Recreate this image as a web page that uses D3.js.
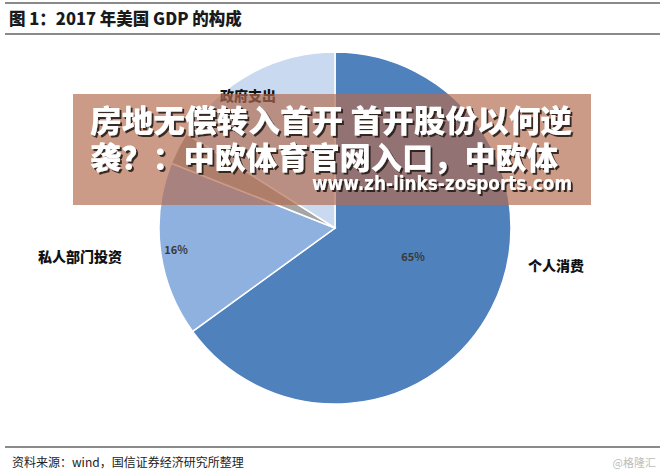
<!DOCTYPE html>
<html><head><meta charset="utf-8">
<script src="https://cdn.jsdelivr.net/npm/d3@7"></script>
<style>
html,body{margin:0;padding:0;background:#fff;}
svg{display:block;font-family:"Noto Sans CJK SC","Noto Sans",sans-serif;}
</style></head>
<body>
<svg id="c" width="665" height="474"></svg>
<script>
const categories = ["个人消费", "私人部门投资", "净出口", "政府支出"];
const values = [65, 16, 3, 16];
const pctLabels = ["65%", "16%", "", ""];
const catLabels = ["个人消费", "私人部门投资", "", "政府支出"];
const colors = ["#4F81BD", "#8FB1E0", "#A5A5A5", "#C8D9F0"];
const titleText = "图 1：2017 年美国 GDP 的构成";
const sourceText = "资料来源：wind，国信证券经济研究所整理";
const bannerLines = ["房地无偿转入首开 首开股份以何逆", "袭？：中欧体育官网入口，中欧体"];
const bannerUrl = "www.zh-links-zosports.com";

const svg = d3.select("#c");

// frame lines
svg.append("line").attr("x1",5).attr("x2",660).attr("y1",3).attr("y2",3).attr("stroke","#8a8a8a").attr("stroke-width",2);
svg.append("line").attr("x1",5).attr("x2",660).attr("y1",34).attr("y2",34).attr("stroke","#8a8a8a").attr("stroke-width",2);
svg.append("line").attr("x1",5).attr("x2",660).attr("y1",447).attr("y2",447).attr("stroke","#8a8a8a").attr("stroke-width",2);

svg.append("text").attr("x",9).attr("y",25).attr("font-size",16.5).attr("font-weight",900).attr("fill","#1a1a1a").text(titleText);
svg.append("text").attr("x",12).attr("y",467).attr("font-size",12).attr("fill","#222").text(sourceText);
svg.append("text").attr("x",656).attr("y",467).attr("text-anchor","end").attr("font-size",11).attr("fill","#bcbcbc").text("@格隆汇");

// pie
const cx = 335, cy = 228, R = 176;
const data = categories.map((c,i)=>({cat:c, label:catLabels[i], value:values[i], pct:pctLabels[i], color:colors[i]}));
const pie = d3.pie().value(d=>d.value).sort(null);
const arc = d3.arc().innerRadius(0).outerRadius(R);
const arcs = pie(data);
const g = svg.append("g").attr("transform",`translate(${cx},${cy})`);
g.selectAll("path").data(arcs).join("path")
  .attr("d",arc).attr("fill",d=>d.data.color)
  .attr("stroke","#fff").attr("stroke-width",1.5);

// percent labels
const pctPos = {"个人消费":[413,261], "私人部门投资":[176,254]};
data.filter(d=>d.pct).forEach(d=>{
  const p = pctPos[d.cat];
  svg.append("text").attr("x",p[0]).attr("y",p[1]).attr("text-anchor","middle")
    .attr("font-size",11).attr("font-weight",700).attr("fill","#3a3a3a").text(d.pct);
});
// category labels
const catPos = {"个人消费":[528,271], "私人部门投资":[38,262], "政府支出":[220,101]};
data.filter(d=>d.label).forEach(d=>{
  const p = catPos[d.cat];
  svg.append("text").attr("x",p[0]).attr("y",p[1])
    .attr("font-size",14).attr("font-weight",900).attr("fill","#111").text(d.label);
});

// watermark banner
svg.append("rect").attr("x",73).attr("y",94).attr("width",518).attr("height",111)
  .attr("fill","rgb(178,108,80)").attr("fill-opacity",0.68);
const defs = svg.append("defs");
const f = defs.append("filter").attr("id","sh").attr("x","-5%").attr("y","-20%").attr("width","110%").attr("height","140%");
f.append("feDropShadow").attr("dx",2).attr("dy",2).attr("stdDeviation",0.6).attr("flood-color","#2a1a14").attr("flood-opacity",0.9);
const bl = [[90,132,482],[90,169,468]];
bannerLines.forEach((t,i)=>{
  svg.append("text").attr("x",bl[i][0]).attr("y",bl[i][1]).attr("font-size",31).attr("font-weight",900)
    .attr("fill","#fff").attr("filter","url(#sh)")
    .attr("textLength", bl[i][2]).attr("lengthAdjust","spacingAndGlyphs").text(t);
});
svg.append("text").attr("x",312).attr("y",190).attr("font-size",19).attr("font-weight",700)
  .attr("fill","#fff").attr("filter","url(#sh)").attr("font-family","'DejaVu Sans',sans-serif")
  .attr("textLength",260).attr("lengthAdjust","spacingAndGlyphs").text(bannerUrl);
</script>
</body></html>
